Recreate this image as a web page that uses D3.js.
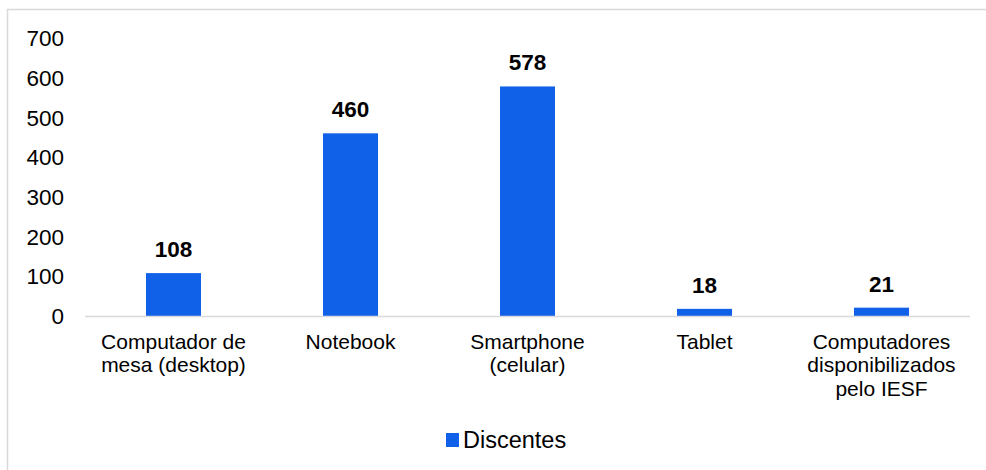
<!DOCTYPE html>
<html>
<head>
<meta charset="utf-8">
<script src="https://cdn.jsdelivr.net/npm/d3@7"></script>
<style>
	body { margin: 0; background: #fff; }
	text { font-family: "Liberation Sans", Arial, sans-serif; fill: #000; }
</style>
</head>
<body>
<script>

var categories = [
	['Computador de', 'mesa (desktop)'],
	['Notebook'],
	['Smartphone', '(celular)'],
	['Tablet'],
	['Computadores', 'disponibilizados', 'pelo IESF']
]
var values = [108, 460, 578, 18, 21]
var yTicks = [0, 100, 200, 300, 400, 500, 600, 700]
var seriesName = 'Discentes'

var width = 986
var height = 470
var color = '#1061E8'

var svg = d3.select('body')
	.append('svg')
	.attr('width', width)
	.attr('height', height)

// outer frame
svg.append('rect')
	.attr('x', 7.5)
	.attr('y', 9.5)
	.attr('width', 1000)
	.attr('height', 500)
	.attr('fill', 'none')
	.attr('stroke', '#d9d9d9')
	.attr('stroke-width', 1.5)

var xScale = d3.scaleBand()
	.domain(d3.range(categories.length))
	.range([85, 970])

var yScale = d3.scaleLinear()
	.domain([0, 700])
	.range([316, 38])

var barWidth = 55

// y tick labels
svg.append('g')
	.selectAll('text')
	.data(yTicks)
	.enter()
	.append('text')
		.attr('x', 64)
		.attr('y', d => yScale(d))
		.attr('dy', '0.36em')
		.attr('text-anchor', 'end')
		.style('font-size', '22.5px')
		.text(d => d)

svg.append('g')
	.selectAll('rect')
	.data(values)
	.enter()
	.append('rect')
		.attr('x', (d, i) => xScale(i) + xScale.bandwidth() / 2 - barWidth / 2)
		.attr('y', d => yScale(d))
		.attr('width', barWidth)
		.attr('height', d => yScale(0) - yScale(d))
		.attr('fill', color)

// baseline
svg.append('line')
	.attr('x1', 85)
	.attr('x2', 970)
	.attr('y1', yScale(0) + 0.5)
	.attr('y2', yScale(0) + 0.5)
	.attr('stroke', '#d9d9d9')
	.attr('stroke-width', 1.5)

// value labels
svg.append('g')
	.selectAll('text')
	.data(values)
	.enter()
	.append('text')
		.attr('x', (d, i) => xScale(i) + xScale.bandwidth() / 2)
		.attr('y', d => yScale(d) - 16)
		.attr('text-anchor', 'middle')
		.style('font-size', '22.5px')
		.style('font-weight', 'bold')
		.text(d => d)

// category labels
var catLabels = svg.append('g')
	.selectAll('text')
	.data(categories)
	.enter()
	.append('text')
		.attr('x', (d, i) => xScale(i) + xScale.bandwidth() / 2)
		.attr('y', 349)
		.attr('text-anchor', 'middle')
		.style('font-size', '21px')

catLabels.selectAll('tspan')
	.data(d => d)
	.enter()
	.append('tspan')
		.attr('x', function () { return d3.select(this.parentNode).attr('x') })
		.attr('dy', (d, i) => i === 0 ? 0 : 23.3)
		.text(d => d)

// legend
var legend = svg.append('g')
	.attr('transform', 'translate(446, 433)')

legend.append('rect')
	.attr('width', 13)
	.attr('height', 14)
	.attr('fill', color)

legend.append('text')
	.attr('x', 17)
	.attr('y', 7)
	.attr('dy', '0.36em')
	.style('font-size', '23.5px')
	.text(seriesName)

</script>
</body>
</html>
